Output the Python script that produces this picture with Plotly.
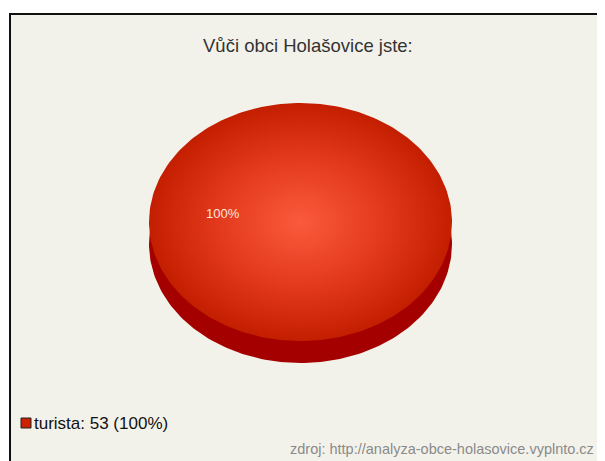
import numpy as np
import plotly.graph_objects as go

title = "Vůči obci Holašovice jste:"
categories = ["turista"]
values = [53]
colors = ["#cc2200"]
source = "zdroj: http://analyza-obce-holasovice.vyplnto.cz"

# page body has an 8px margin; map axes so coordinates match the window pixels
OFF = 8
W, H = 605, 461
FW, FH = W - 2 * OFF, H - OFF
cx, cy, rx, ry, depth = 300.5, 222, 151.5, 119, 22
FONT = "Liberation Sans, Arial"

total = sum(values)
fig = go.Figure()

# side (depth) of the 3D pie
start = 0.0
for cat, val, col in zip(categories, values, colors):
    frac = val / total
    a0, a1 = start * 2 * np.pi, (start + frac) * 2 * np.pi
    ang = np.linspace(a0, a1, max(3, int(240 * frac) + 1))
    xs = cx + rx * np.sin(ang)
    ys = cy + depth - ry * np.cos(ang)
    if frac < 1:
        xs = np.concatenate([[cx], xs, [cx]])
        ys = np.concatenate([[cy + depth], ys, [cy + depth]])
    fig.add_trace(go.Scatter(x=xs, y=ys, mode="lines", fill="toself",
                             fillcolor="#a50000", line=dict(width=0, color="#a50000"),
                             hoverinfo="skip", showlegend=False))
    start += frac

start = 0.0
for cat, val, col in zip(categories, values, colors):
    frac = val / total
    a0, a1 = start * 2 * np.pi, (start + frac) * 2 * np.pi
    ang = np.linspace(a0, a1, max(3, int(240 * frac) + 1))
    xs = cx + rx * np.sin(ang)
    ys = cy - ry * np.cos(ang)
    if frac < 1:
        xs = np.concatenate([[cx], xs, [cx]])
        ys = np.concatenate([[cy], ys, [cy]])
    fig.add_trace(go.Scatter(x=xs, y=ys, mode="lines", fill="toself",
                             fillgradient=dict(type="radial",
                                               colorscale=[[0, "#fb5a3c"], [0.55, "#e2391c"], [1, "#c41e00"]]),
                             line=dict(width=0, color=col),
                             hoverinfo="skip", showlegend=False, name=cat))
    mid = (a0 + a1) / 2
    lx = cx - 0.51 * rx if frac == 1 else cx + 0.6 * rx * np.sin(mid)
    ly = cy - 0.07 * ry if frac == 1 else cy - 0.6 * ry * np.cos(mid)
    fig.add_annotation(x=lx, y=ly, text=f"{100 * frac:.0f}%", showarrow=False,
                       font=dict(family=FONT, size=13, color="#fde6dc"))
    start += frac

shapes = [dict(type="rect", xref="x", yref="y",
               x0=10, x1=W + 5, y0=14, y1=H + 5,
               line=dict(color="#111111", width=2), fillcolor="#f3f2ea", layer="below")]

# legend
for i, (cat, val, col) in enumerate(zip(categories, values, colors)):
    yy = 423 + i * 20
    shapes.append(dict(type="rect", xref="x", yref="y", x0=21, x1=31, y0=yy - 5, y1=yy + 5,
                       fillcolor=col, line=dict(color="#222", width=1)))
    fig.add_annotation(x=32, y=yy, xanchor="left", yanchor="middle",
                       text=f"{cat}: {val} ({100 * val / total:.0f}%)", showarrow=False,
                       font=dict(family=FONT, size=17, color="#111"))

fig.add_annotation(x=596, y=449, xanchor="right", yanchor="middle", text=source, showarrow=False,
                   font=dict(family=FONT, size=14.5, color="#8a8a8a"))
fig.add_annotation(x=308, y=45, xanchor="center", yanchor="middle", text=title, showarrow=False,
                   font=dict(family=FONT, size=18.5, color="#333"))

fig.update_layout(width=FW, height=FH, margin=dict(l=0, r=0, t=0, b=0),
                  paper_bgcolor="white", plot_bgcolor="rgba(0,0,0,0)", shapes=shapes,
                  xaxis=dict(range=[OFF, OFF + FW], visible=False, fixedrange=True),
                  yaxis=dict(range=[OFF + FH, OFF], visible=False, fixedrange=True),
                  showlegend=False)
fig.write_html("out.html")
